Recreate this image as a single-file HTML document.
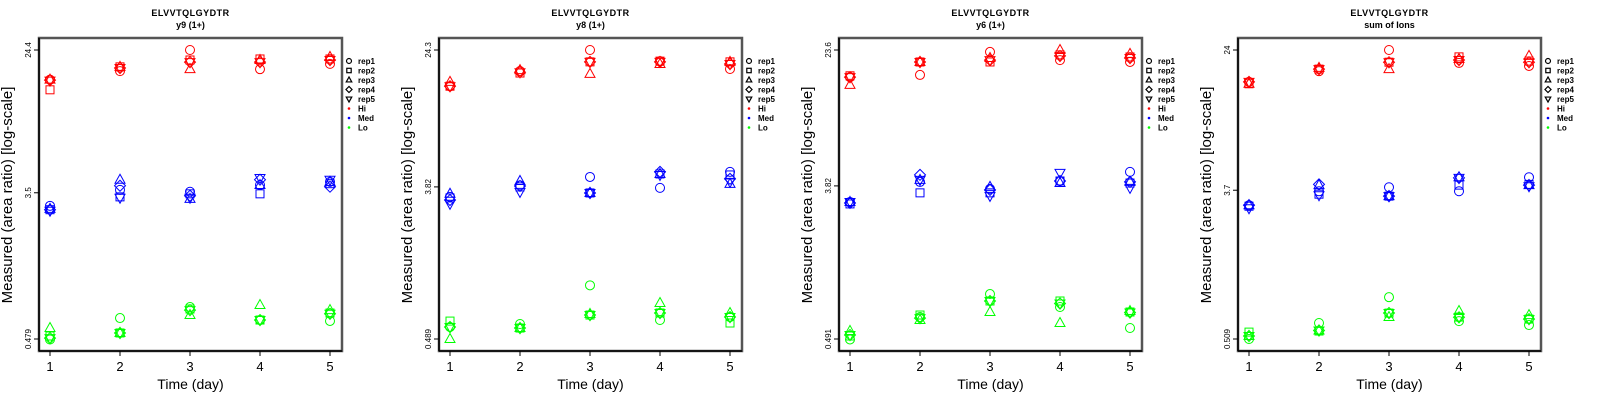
<!DOCTYPE html>
<html><head><meta charset="utf-8">
<style>
html,body{margin:0;padding:0;background:#fff;}
svg{display:block;font-family:"Liberation Sans",sans-serif;}
</style></head>
<body>
<svg id="chart" width="1600" height="400" viewBox="0 0 1600 400"></svg>
<script>
const days = [1,2,3,4,5];
const reps = ['rep1','rep2','rep3','rep4','rep5'];
const groups = ['Hi','Med','Lo'];
const panelTitles = ['y9 (1+)','y8 (1+)','y6 (1+)','sum of Ions'];
const yTickLabels = [['0.479','3.5','24.4'],['0.489','3.82','24.3'],['0.491','3.82','23.6'],['0.509','3.7','24']];
const yTickValues = [[0.479,3.5,24.4],[0.489,3.82,24.3],[0.491,3.82,23.6],[0.509,3.7,24]];
// values[group][day][rep]
const p1Hi  = [[16.3,14.2,16.3,16.2,16.1],[18.3,19.4,19.4,19.1,19.1],[24.4,21.3,18.8,20.7,20.7],[18.8,21.6,21.3,20.7,20.7],[20.2,21.6,22.2,21.3,21.3]];
const p1Med = [[2.93,2.78,2.81,2.78,2.74],[3.64,3.31,4.18,3.85,3.27],[3.55,3.45,3.22,3.36,3.27],[3.89,3.45,3.89,4.18,4.28],[4.06,3.96,4.06,3.8,4.18]];
const p1Lo  = [[0.476,0.499,0.556,0.485,0.485],[0.637,0.52,0.52,0.52,0.52],[0.74,0.72,0.664,0.71,0.71],[0.62,0.62,0.76,0.62,0.62],[0.612,0.682,0.71,0.675,0.675]];
const p2Hi  = [[14.9,14.9,15.8,14.9,14.9],[18.3,17.8,18.5,18.0,18.0],[24.3,20.7,17.6,20.7,20.7],[20.9,20.9,20.1,20.7,20.7],[18.8,20.7,20.7,20.1,20.1]];
const p2Med = [[3.34,3.29,3.48,3.2,3.04],[3.9,3.82,4.14,3.87,3.57],[4.37,3.52,3.52,3.52,3.52],[3.77,4.55,4.55,4.68,4.49],[4.68,4.49,3.98,4.26,4.09]];
const p2Lo  = [[0.575,0.623,0.489,0.575,0.575],[0.599,0.567,0.567,0.567,0.567],[1.01,0.676,0.686,0.676,0.676],[0.632,0.695,0.795,0.695,0.695],[0.658,0.607,0.695,0.658,0.658]];
const p3Hi  = [[16.4,16.7,14.8,16.4,16.4],[16.9,20.1,20.1,20.1,20.1],[23.0,20.1,21.2,20.6,20.6],[20.6,22.1,23.6,21.8,21.8],[20.1,21.5,22.4,21.2,21.2]];
const p3Med = [[3.08,3.0,3.08,3.04,3.08],[4.03,3.48,4.14,4.43,4.14],[3.67,3.48,3.77,3.62,3.34],[4.08,4.08,3.97,4.08,4.55],[4.61,3.97,4.03,4.03,3.72]];
const p3Lo  = [[0.488,0.511,0.547,0.518,0.518],[0.659,0.677,0.633,0.65,0.65],[0.897,0.817,0.705,0.817,0.817],[0.754,0.817,0.608,0.79,0.79],[0.569,0.705,0.714,0.70,0.70]];
const p4Hi  = [[15.7,15.3,15.3,15.7,15.7],[18.1,18.6,18.9,18.6,18.6],[24.0,20.4,18.6,20.4,20.4],[20.2,21.9,21.3,21.0,21.0],[19.4,20.7,22.2,20.4,20.4]];
const p4Med = [[3.03,2.99,3.03,3.03,2.91],[3.65,3.51,3.96,4.0,3.46],[3.85,3.42,3.42,3.42,3.42],[3.65,3.96,4.40,4.36,4.36],[4.40,4.0,3.96,3.96,3.9]];
const p4Lo  = [[0.509,0.558,0.53,0.53,0.53],[0.63,0.566,0.57,0.57,0.57],[0.889,0.719,0.682,0.72,0.72],[0.646,0.682,0.739,0.68,0.68],[0.613,0.664,0.70,0.664,0.664]];
const panelData = [[p1Hi,p1Med,p1Lo],[p2Hi,p2Med,p2Lo],[p3Hi,p3Med,p3Lo],[p4Hi,p4Med,p4Lo]];

const NS='http://www.w3.org/2000/svg';
const svg=document.getElementById('chart');
const colors={Hi:'#ff0000',Med:'#0000ff',Lo:'#00ff00'};
const boxLefts=[39,439,839,1238];
function mk(tag,attrs,parent){const e=document.createElementNS(NS,tag);for(const k in attrs)e.setAttribute(k,attrs[k]);(parent||svg).appendChild(e);return e;}
function marker(g,rep,cx,cy,col){
  const s=4.5;let e;
  if(rep===0) e=mk('circle',{cx:cx,cy:cy,r:s},g);
  else if(rep===1) e=mk('rect',{x:cx-4,y:cy-4,width:8,height:8},g);
  else if(rep===2) e=mk('polygon',{points:`${cx},${cy-5.5} ${cx+5},${cy+3.5} ${cx-5},${cy+3.5}`},g);
  else if(rep===3) e=mk('polygon',{points:`${cx},${cy-5.5} ${cx+5.5},${cy} ${cx},${cy+5.5} ${cx-5.5},${cy}`},g);
  else e=mk('polygon',{points:`${cx},${cy+5.5} ${cx+5},${cy-3.5} ${cx-5},${cy-3.5}`},g);
  e.setAttribute('fill','none');e.setAttribute('stroke',col);e.setAttribute('stroke-width','1');
  return e;
}
for(let p=0;p<4;p++){
  const L=boxLefts[p],R=L+303,T=38,B=351;
  const x1=L+11,x5=L+291;
  const yTopPx=50,yBotPx=339;
  const tv=yTickValues[p];
  const lmin=Math.log10(tv[0]),lmax=Math.log10(tv[2]);
  const xs=d=>x1+(d-1)*(x5-x1)/4;
  const ys=v=>yTopPx+(lmax-Math.log10(v))/(lmax-lmin)*(yBotPx-yTopPx);
  const g=mk('g',{});
  
  
  const cx=(L+R)/2;
  const t1=mk('text',{x:cx,y:16,'text-anchor':'middle','font-size':'9','font-weight':'bold','letter-spacing':'0.5'},g);t1.textContent='ELVVTQLGYDTR';
  
  const t2=mk('text',{x:cx,y:28,'text-anchor':'middle','font-size':'9','font-weight':'bold'},g);t2.textContent=panelTitles[p];
  
  const box=mk('rect',{x:L,y:T,width:R-L,height:B-T,fill:'none',stroke:'#555','stroke-width':'2.5'},g);
  
  mk('line',{x1:L,y1:B,x2:R,y2:B,stroke:'#000','stroke-width':'1.5'},g);
  mk('line',{x1:L,y1:T,x2:L,y2:B,stroke:'#000','stroke-width':'1.5'},g);
  days.forEach(d=>{
    const x=xs(d);
    mk('line',{x1:x,y1:B,x2:x,y2:B+5,stroke:'#000'},g);
    const t=mk('text',{x:x,y:B+20,'text-anchor':'middle','font-size':'13'},g);t.textContent=d;
    
  });
  tv.forEach((v,i)=>{
    const y=ys(v);
    mk('line',{x1:L,y1:y,x2:L-5,y2:y,stroke:'#000'},g);
    const t=mk('text',{x:0,y:0,'text-anchor':'middle','font-size':'8',transform:`translate(${L-8},${y}) rotate(-90)`},g);t.textContent=yTickLabels[p][i];
    
  });
  const xt=mk('text',{x:cx,y:389,'text-anchor':'middle','font-size':'14'},g);xt.textContent='Time (day)';
  
  const yt=mk('text',{x:0,y:0,'text-anchor':'middle','font-size':'15',transform:`translate(${L-27},195) rotate(-90)`},g);yt.textContent='Measured (area ratio) [log-scale]';
  
  groups.forEach((gr,gi)=>{
    const arr=panelData[p][gi];
    days.forEach((d,di)=>{
      reps.forEach((r,ri)=>{
        const m=marker(g,ri,xs(d),ys(arr[di][ri]),colors[gr]);
        
        
      });
    });
  });
  const lx=R+7,ly0=61,ls=9.5;
  const lg=mk('g',{},g);
  
  reps.forEach((r,ri)=>{
    const y=ly0+ri*ls;
    const m=mk('g',{transform:`translate(${lx},${y}) scale(0.55) translate(${-lx},${-y})`},lg);
    const mm=marker(m,ri,lx,y,'#000');mm.setAttribute('stroke-width','2.2');
    const t=mk('text',{x:lx+9,y:y+3,'font-size':'8','font-weight':'bold'},lg);t.textContent=r;
    
  });
  groups.forEach((gr,gi)=>{
    const y=ly0+(5+gi)*ls;
    mk('circle',{cx:lx,cy:y,r:1.3,fill:colors[gr]},lg);
    const t=mk('text',{x:lx+9,y:y+3,'font-size':'8','font-weight':'bold'},lg);t.textContent=gr;
    
  });
}
</script>
</body></html>
